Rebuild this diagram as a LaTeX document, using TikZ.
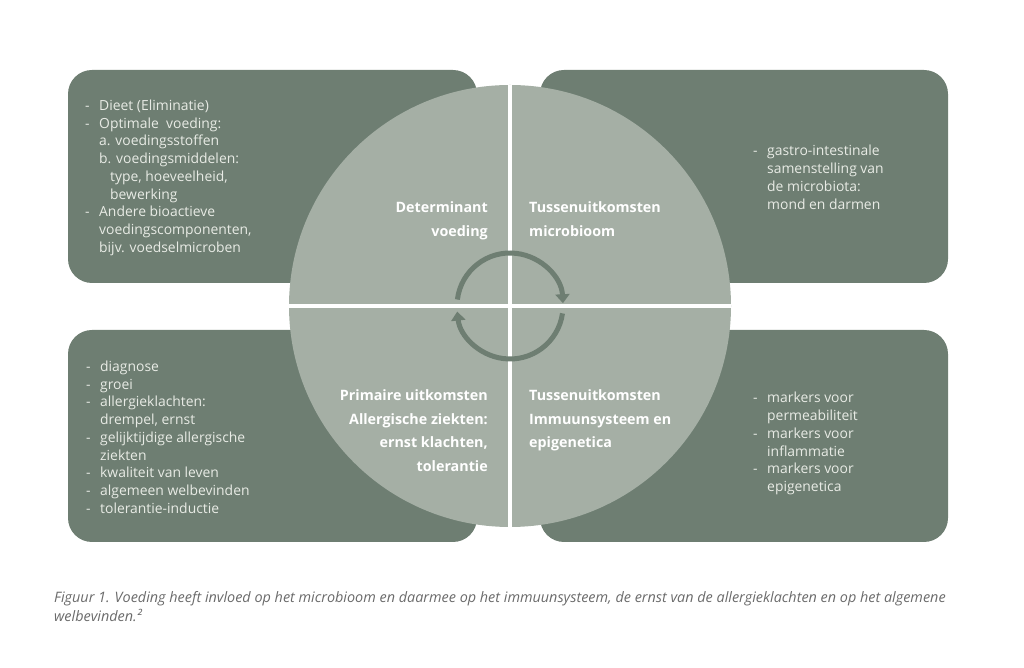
\documentclass[tikz,border=0pt]{standalone}
\usepackage{fontspec}
\setmainfont{Open Sans}
\usetikzlibrary{arrows.meta,positioning,calc}
\definecolor{sage}{HTML}{6E7E72}
\definecolor{pale}{HTML}{A5AFA5}
\definecolor{chalk}{HTML}{E8EBE5}
\definecolor{ink}{HTML}{6A6A6A}
\newcommand{\dashitem}{\makebox[14pt][l]{-}}
\newcommand{\cont}{\hspace*{14pt}}

\begin{document}
\begin{tikzpicture}[x=1pt,y=1pt,>=Latex,
    panel/.style={rectangle,rounded corners=24pt,fill=sage,inner sep=0pt},
    listtext/.style={inner sep=0pt,align=left,text=chalk,font=\fontsize{13.9}{17.75}\selectfont},
    quadtext/.style={inner sep=0pt,text=white,font=\bfseries\fontsize{14.3}{23.7}\selectfont},
    cycle/.style={draw=sage,line width=5pt,-{Triangle[width=14pt,length=9pt]}}]
    \useasboundingbox (0,0) rectangle (1024,668);
    % four panels behind the circle
    \node[panel,minimum width=409pt,minimum height=213pt] (bdet) at (272.5,491.5) {};
    \node[panel,minimum width=408pt,minimum height=213pt] (bmic) at (744,491.5) {};
    \node[panel,minimum width=409pt,minimum height=212pt] (bprim) at (272.5,232) {};
    \node[panel,minimum width=408pt,minimum height=212pt] (bimm) at (744,232) {};
    \node[circle,fill=pale,inner sep=0pt,minimum size=442pt] (hub) at (510,362) {};
    \draw[white,line width=4pt] (hub.north) -- (hub.south);
    \draw[white,line width=4pt] (hub.west) -- (hub.east);
    % quadrant titles
    \node[quadtext,align=right,anchor=north east] (det) at (488,466.5) {Determinant\\voeding};
    \node[quadtext,align=left,anchor=north west] (mic) at (529,466.5) {Tussenuitkomsten\\microbioom};
    \node[quadtext,align=right,anchor=north east] (prim) at (488,278.5) {Primaire uitkomsten\\Allergische ziekten:\\ernst klachten,\\tolerantie};
    \node[quadtext,align=left,anchor=north west] (imm) at (529,278.5) {Tussenuitkomsten\\Immuunsysteem en\\epigenetica};
    % cycle arrows
    \draw[cycle] ([shift={(173:53)}]hub.center) arc[start angle=173,end angle=3,radius=53];
    \draw[cycle] ([shift={(-8:53)}]hub.center) arc[start angle=-8,end angle=-174,radius=53];
    % panel texts
    \node[listtext,anchor=north west] (ldet) at (85,568.5) {\dashitem Dieet (Eliminatie)\\
      \dashitem Optimale\ \ voeding:\\
      \cont a. voedingsstoffen\\
      \cont b. voedingsmiddelen:\\
      \hspace*{25pt}type, hoeveelheid,\\
      \hspace*{25pt}bewerking\\
      \dashitem Andere bioactieve\\
      \cont voedingscomponenten,\\
      \cont bijv. voedselmicroben};
    \node[listtext,anchor=north west] (lmic) at (753,523) {\dashitem gastro-intestinale\\
      \cont samenstelling van\\
      \cont de microbiota:\\
      \cont mond en darmen};
    \node[listtext,anchor=north west] (lprim) at (86,307.5) {\dashitem diagnose\\
      \dashitem groei\\
      \dashitem allergieklachten:\\
      \cont drempel, ernst\\
      \dashitem gelijktijdige allergische\\
      \cont ziekten\\
      \dashitem kwaliteit van leven\\
      \dashitem algemeen welbevinden\\
      \dashitem tolerantie-inductie};
    \node[listtext,anchor=north west] (limm) at (753,276) {\dashitem markers voor\\
      \cont permeabiliteit\\
      \dashitem markers voor\\
      \cont inflammatie\\
      \dashitem markers voor\\
      \cont epigenetica};
    % caption
    \node[inner sep=0pt,anchor=north west,align=left,text=ink,font=\itshape\fontsize{14.4}{19}\selectfont] (fig) at (54,76.5)
      {Figuur 1. Voeding heeft invloed op het microbioom en daarmee op het immuunsysteem, de ernst van de allergieklachten en op het algemene\\welbevinden.²};
\end{tikzpicture}
\end{document}
